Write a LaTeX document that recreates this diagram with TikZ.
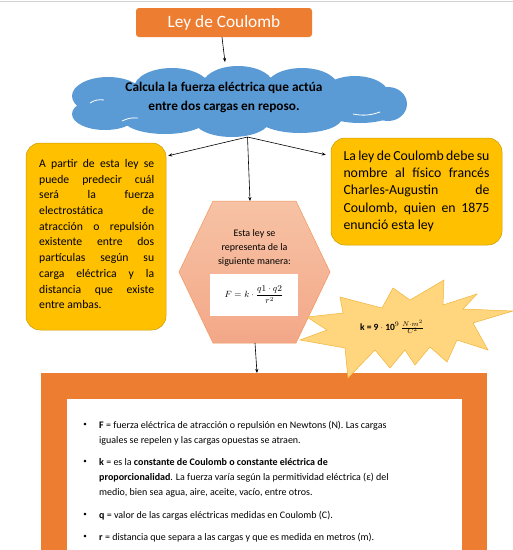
\documentclass[tikz,border=0pt]{standalone}
\usepackage{fontspec}
\setmainfont{Carlito}
\usepackage{tikz}
\usetikzlibrary{arrows.meta}
\definecolor{titleOrange}{HTML}{ED7D31}
\definecolor{cloudBlue}{HTML}{5B9BD5}
\definecolor{boxGold}{HTML}{FFC000}
\definecolor{boxGoldEdge}{HTML}{C99A00}
\definecolor{hexTop}{HTML}{F7C2A5}
\definecolor{hexBottom}{HTML}{F3A888}
\definecolor{burstFill}{HTML}{FFD57E}
\definecolor{burstEdge}{HTML}{F0B437}

\tikzset{
    link/.style={-{Stealth[length=4pt,width=3.2pt]}, black, line width=0.6pt},
    goldbox/.style={draw=boxGoldEdge, fill=boxGold, rounded corners=14pt, line width=0.5pt, inner sep=0},
    bodytext/.style={anchor=north west, inner sep=0, align=left, font=\fontsize{10}{15.2}\selectfont},
    dot/.style={inner sep=0, font=\fontsize{7}{8}\selectfont},
    puff/.style={white, line width=0.8pt}
}

\begin{document}
\begin{tikzpicture}[x=1pt, y=-1pt]
    \useasboundingbox (0,0) rectangle (513,550);
    \draw[gray!35, line width=1pt] (0,1) -- (513,1);

    % bottom frame
    \fill[titleOrange] (41,373) rectangle (487,550);
    \fill[white] (67,399) rectangle (462,550);
    \coordinate (frameN) at (257,373);

    % title
    \node[fill=titleOrange, rounded corners=3pt, minimum width=176pt, minimum height=29pt, inner sep=0,
        text=white, font=\fontsize{17.3}{20}\selectfont] (title) at (224,22.5) {Ley de Coulomb};

    % cloud
    \begin{scope}[fill=cloudBlue]
        \fill (108,96) ellipse [x radius=36pt, y radius=19pt];
        \fill (105,114) ellipse [x radius=33pt, y radius=16pt];
        \fill (172,88) ellipse [x radius=38pt, y radius=20pt];
        \fill (238,86) ellipse [x radius=36pt, y radius=20pt];
        \fill (302,87) ellipse [x radius=36pt, y radius=19pt];
        \fill (355,95) ellipse [x radius=34pt, y radius=19pt];
        \fill (388,104) ellipse [x radius=19pt, y radius=17pt];
        \fill (165,119) ellipse [x radius=42pt, y radius=15pt];
        \fill (232,120) ellipse [x radius=38pt, y radius=17pt];
        \fill (300,118) ellipse [x radius=42pt, y radius=15pt];
        \fill (360,111) ellipse [x radius=36pt, y radius=12pt];
        \fill (238,102) ellipse [x radius=150pt, y radius=25pt];
    \end{scope}
    \draw[puff] (90,103) to[bend left=20] (104,100);
    \draw[puff] (122,121) to[bend left=15] (138,118);
    \draw[puff] (353,114) to[bend right=15] (380,112);
    \draw[puff] (392,85) to[bend left=20] (406,80);
    \node[align=center, inner sep=0, font=\bfseries\fontsize{13.3}{19}\selectfont] (cloudtext) at (224,97)
        {Calcula la fuerza eléctrica que actúa\\entre dos cargas en reposo.};
    \coordinate (cloudN) at (225,62);
    \coordinate (split) at (247.5,137);
    \draw[link] ([xshift=-2pt]title.south) -- (cloudN);

    % side boxes
    \node[goldbox, minimum width=140pt, minimum height=187pt] (leftbox) at (96,236.5) {};
    \node[bodytext, font=\fontsize{11.7}{15.7}\selectfont] (lefttext) at (39,156.3) {%
        \strut\makebox[115pt][s]{A partir de esta ley se}\\
        \makebox[115pt][s]{puede predecir cuál}\\
        \makebox[115pt][s]{será la fuerza}\\
        \makebox[115pt][s]{electrostática de}\\
        \makebox[115pt][s]{atracción o repulsión}\\
        \makebox[115pt][s]{existente entre dos}\\
        \makebox[115pt][s]{partículas según su}\\
        \makebox[115pt][s]{carga eléctrica y la}\\
        \makebox[115pt][s]{distancia que existe}\\
        entre ambas.};
    \node[goldbox, minimum width=171pt, minimum height=107pt, align=left,
        font=\fontsize{13.8}{17.3}\selectfont] (rightbox) at (416.5,191.5) {%
        \strut\makebox[146pt][s]{La ley de Coulomb debe su}\\
        \makebox[146pt][s]{nombre al físico francés}\\
        \makebox[146pt][s]{Charles-Augustin de}\\
        \makebox[146pt][s]{Coulomb, quien en 1875}\\
        enunció esta ley\strut};
    \draw[link] (split) -- ([shift={(2pt,-13pt)}]leftbox.north east);
    \draw[link] (split) -- ([shift={(-5pt,-17pt)}]rightbox.north west);

    % hexagon
    \draw[draw=titleOrange!80, line width=0.5pt, top color=hexTop, bottom color=hexBottom]
        (213,201) -- (296,201) -- (330,272) -- (296,343) -- (213,343) -- (179,272) -- cycle;
    \coordinate (hexN) at (250,201);
    \coordinate (hexS) at (255,343);
    \node[align=center, inner sep=0, font=\fontsize{10}{14}\selectfont] (hextext) at (254.5,247.5)
        {Esta ley se\\representa de la\\siguiente manera:};
    \node[fill=white, minimum width=88pt, minimum height=42pt, inner sep=0,
        font=\fontsize{9}{11}\selectfont] (formula) at (254,295)
        {$\displaystyle F = k\cdot\frac{q1\cdot q2}{r^{2}}$};
    \draw[link] (split) -- (hexN);
    \draw[link] (hexS) -- (frameN);

    % starburst
    \draw[fill=burstFill, draw=burstEdge, line width=0.5pt]
        (340,297) -- (382,308) -- (393,288) -- (410,300) -- (444,280) -- (443,305) -- (477,294)
        -- (463,309) -- (513,311) -- (473,323) -- (488,350) -- (457,340) -- (447,362) -- (430,347)
        -- (415,365) -- (405,350) -- (390,368) -- (375,350) -- (348,378) -- (345,348) -- (300,340)
        -- (327,330) -- (307,317) -- (343,313) -- cycle;
    \node[inner sep=0, font=\fontsize{9.5}{11}\selectfont] (ktext) at (392,327)
        {\textbf{k = 9 $\cdot$ 10$^{9}$}\,$\frac{N\cdot m^{2}}{C^{2}}$};

    % list in the frame
    \node[dot] (dotF) at (85,425) {•};
    \node[bodytext] (itemF) at (99,417.4) {\strut\textbf{F} = fuerza eléctrica de atracción o repulsión en Newtons (N). Las cargas\\
        iguales se repelen y las cargas opuestas se atraen.};
    \node[dot] (dotK) at (85,462) {•};
    \node[bodytext] (itemK) at (99,454.4) {\strut\textbf{k} = es la \textbf{constante de Coulomb o constante eléctrica de}\\
        \textbf{proporcionalidad}. La fuerza varía según la permitividad eléctrica (ε) del\\
        medio, bien sea agua, aire, aceite, vacío, entre otros.};
    \node[dot] (dotQ) at (85,515) {•};
    \node[bodytext] (itemQ) at (99,507.9) {\strut\textbf{q} = valor de las cargas eléctricas medidas en Coulomb (C).};
    \node[dot] (dotR) at (85,537) {•};
    \node[bodytext] (itemR) at (99,529.4) {\strut\textbf{r} = distancia que separa a las cargas y que es medida en metros (m).};
\end{tikzpicture}
\end{document}
